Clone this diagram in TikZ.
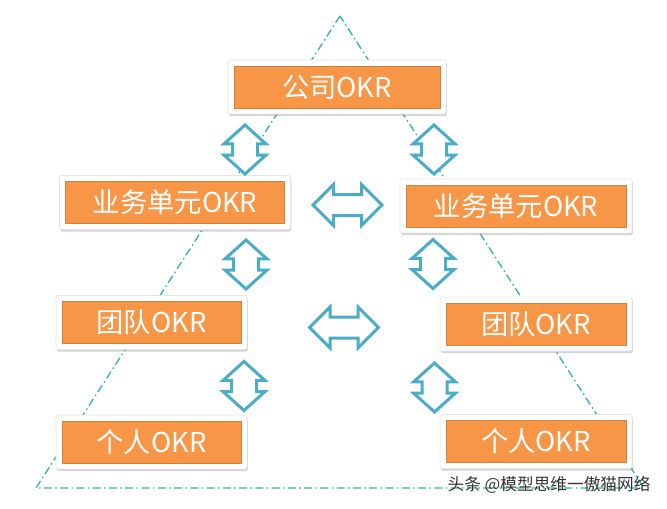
\documentclass[tikz,border=0pt]{standalone}
\usepackage{fontspec}
\usepackage{xcolor}
\usepackage{tikz}
\usetikzlibrary{shapes.arrows,shadows}
\newfontfamily\cjk{Noto Sans CJK SC}
\definecolor{okrc}{HTML}{F79646}
\definecolor{arrc}{HTML}{4BACC6}
\definecolor{tric}{HTML}{35B0AA}
\definecolor{markc}{HTML}{333333}
\tikzset{
  okr/.style={fill=white,draw=black!10,line width=0.4pt,rounded corners=1.5pt,minimum height=40.5pt,inner sep=0pt,
    drop shadow={shadow xshift=0.6pt,shadow yshift=-1.5pt,opacity=0.35},
    text=white,font=\cjk\fontsize{20.5}{24}\selectfont,
    path picture={\draw[fill=okrc,draw=okrc!85!black,line width=0.5pt,sharp corners]
      ([shift={(4.5pt,4.5pt)}]path picture bounding box.south west) rectangle
      ([shift={(-4.5pt,-4.5pt)}]path picture bounding box.north east);}},
  varr/.style={double arrow,rotate=90,draw=arrc,fill=white,line width=2.25pt,inner xsep=0pt,inner ysep=8.25pt,
    minimum height=36.75pt,minimum width=29.25pt,double arrow head extend=6.4pt,double arrow tip angle=96},
  harr/.style={double arrow,draw=arrc,fill=white,line width=2.25pt,inner xsep=0pt,inner ysep=6.75pt,
    minimum height=51.75pt,minimum width=28.5pt,double arrow head extend=7.5pt},
  tri/.style={tric,line width=1pt,dash pattern=on 6pt off 2.5pt on 1.2pt off 2.5pt}
}
\begin{document}
\begin{tikzpicture}[x=0.75pt,y=-0.75pt]
\useasboundingbox (0,0) rectangle (667,508);
\draw[tri] (340,16) -- (36,488) -- (644,488) -- cycle;
% boxes
\node[okr,minimum width=163.5pt] (gs) at (337,87) {公司OKR};
\node[okr,minimum width=173.25pt] (ywl) at (175,202.5) {业务单元OKR};
\node[okr,minimum width=174pt] (ywr) at (516,206) {业务单元OKR};
\node[okr,minimum width=143.25pt] (tdl) at (151.5,322.5) {团队OKR};
\node[okr,minimum width=144pt] (tdr) at (536,324) {团队OKR};
\node[okr,minimum width=143.25pt] (grl) at (151.5,442) {个人OKR};
\node[okr,minimum width=144pt] (grr) at (536,441.5) {个人OKR};
% arrows
\node[varr] (a1) at (245,149.5) {};
\node[varr] (a2) at (434,149.5) {};
\node[harr] (a3) at (347.5,205) {};
\node[varr] (a4) at (246,264.5) {};
\node[varr] (a5) at (433,264) {};
\node[harr] (a6) at (344,327.5) {};
\node[varr] (a7) at (244,386) {};
\node[varr] (a8) at (434.5,387.5) {};
\node[font=\cjk\fontsize{12.5}{14}\selectfont,text=markc] (mark) at (549,485) {头条 @模型思维一傲猫网络};
\end{tikzpicture}
\end{document}
